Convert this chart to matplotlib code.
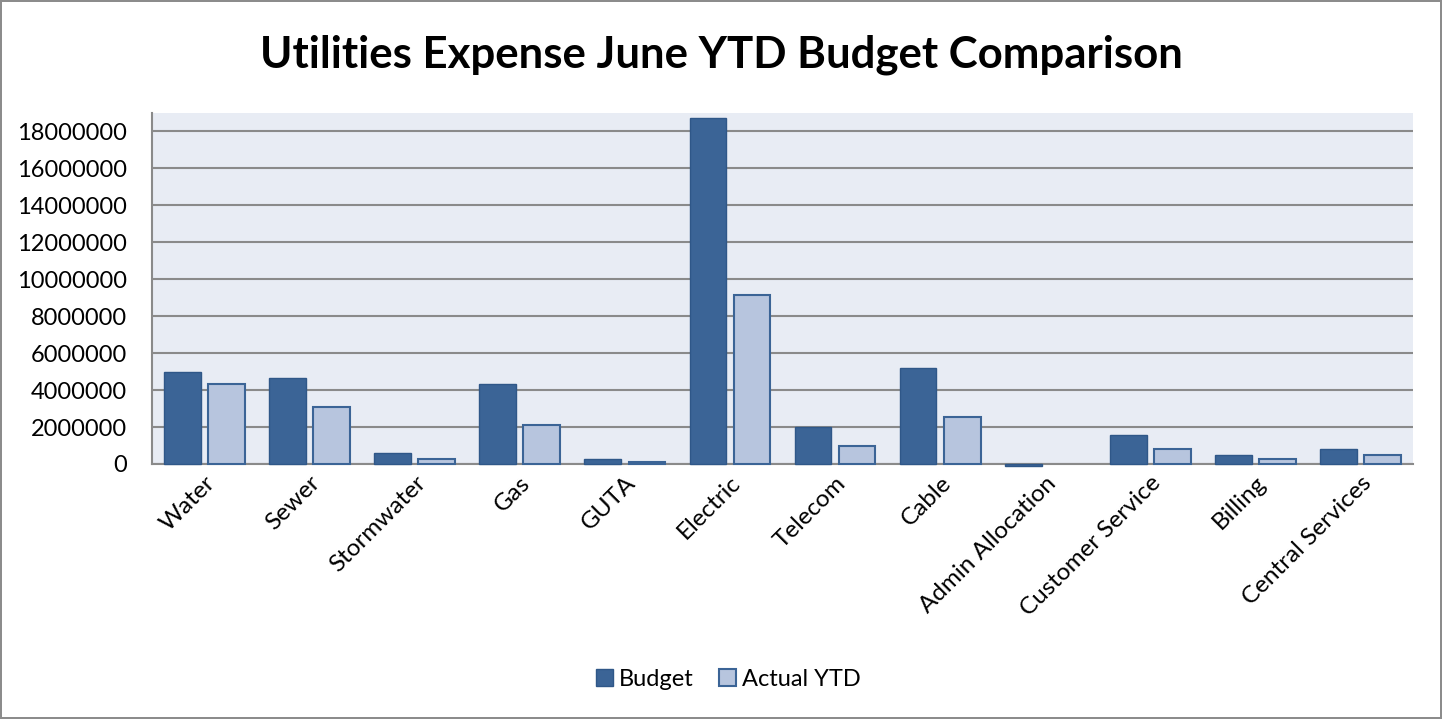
import numpy as np
import matplotlib.pyplot as plt

plt.rcParams['font.family'] = ['Lato', 'DejaVu Sans']

categories = ['Water', 'Sewer', 'Stormwater', 'Gas', 'GUTA', 'Electric', 'Telecom',
              'Cable', 'Admin Allocation', 'Customer Service', 'Billing', 'Central Services']
budget = [5000000, 4640000, 610000, 4340000, 290000, 18740000, 1980000,
          5180000, -110000, 1550000, 490000, 790000]
actual_ytd = [4350000, 3060000, 290000, 2120000, 120000, 9140000, 970000,
              2570000, 0, 810000, 250000, 500000]
yticks = np.arange(0, 18000001, 2000000)

fig = plt.figure(figsize=(14.42, 7.19), dpi=100)
fig.patch.set_edgecolor('#8c8c8c')
fig.patch.set_linewidth(1.5)
ax = fig.add_axes([152 / 1442, 1 - 464 / 719, (1413 - 152) / 1442, (464 - 113) / 719])
ax.set_facecolor('#e8ecf4')

x = np.arange(len(categories))
w = 0.35
ax.bar(x - 0.21, budget, w, color='#3b6496', edgecolor='#2f5788', linewidth=1,
       label='Budget', zorder=3, clip_on=False)
# zero-height bars get no outline
actual_edges = ['#3b6496' if v != 0 else 'none' for v in actual_ytd]
ax.bar(x + 0.21, actual_ytd, w, color='#b7c5de', edgecolor=actual_edges, linewidth=1.5,
       label='Actual YTD', zorder=3, clip_on=False)

ax.set_xlim(-0.5, len(categories) - 0.5)
ax.set_ylim(0, 19000000)
ax.set_yticks(yticks)
ax.set_yticklabels([str(v) for v in yticks], fontsize=17)
ax.yaxis.grid(True, color='#8a8a8a', linewidth=1.5, zorder=1)
ax.set_axisbelow(True)
ax.tick_params(axis='y', length=0, pad=18)
ax.tick_params(axis='x', length=0, pad=6)
ax.set_xticks(x)
ax.set_xticklabels(categories, rotation=45, ha='right', rotation_mode='anchor', fontsize=17.5)

for s in ['top', 'right']:
    ax.spines[s].set_visible(False)
for s in ['left', 'bottom']:
    ax.spines[s].set_color('#8a8a8a')
    ax.spines[s].set_linewidth(1.5)

fig.suptitle('Utilities Expense June YTD Budget Comparison', y=1 - 55 / 719, va='center',
             fontsize=31.5, fontweight='bold')
leg = fig.legend(loc='center', bbox_to_anchor=(0.505, 1 - 679 / 719), ncol=2, frameon=False,
                 fontsize=17, handlelength=0.7, handleheight=0.7, handletextpad=0.25,
                 columnspacing=1.1)
leg.legend_handles[1].set_edgecolor('#3b6496')

fig.savefig('out.png', dpi=100, edgecolor=fig.get_edgecolor())
